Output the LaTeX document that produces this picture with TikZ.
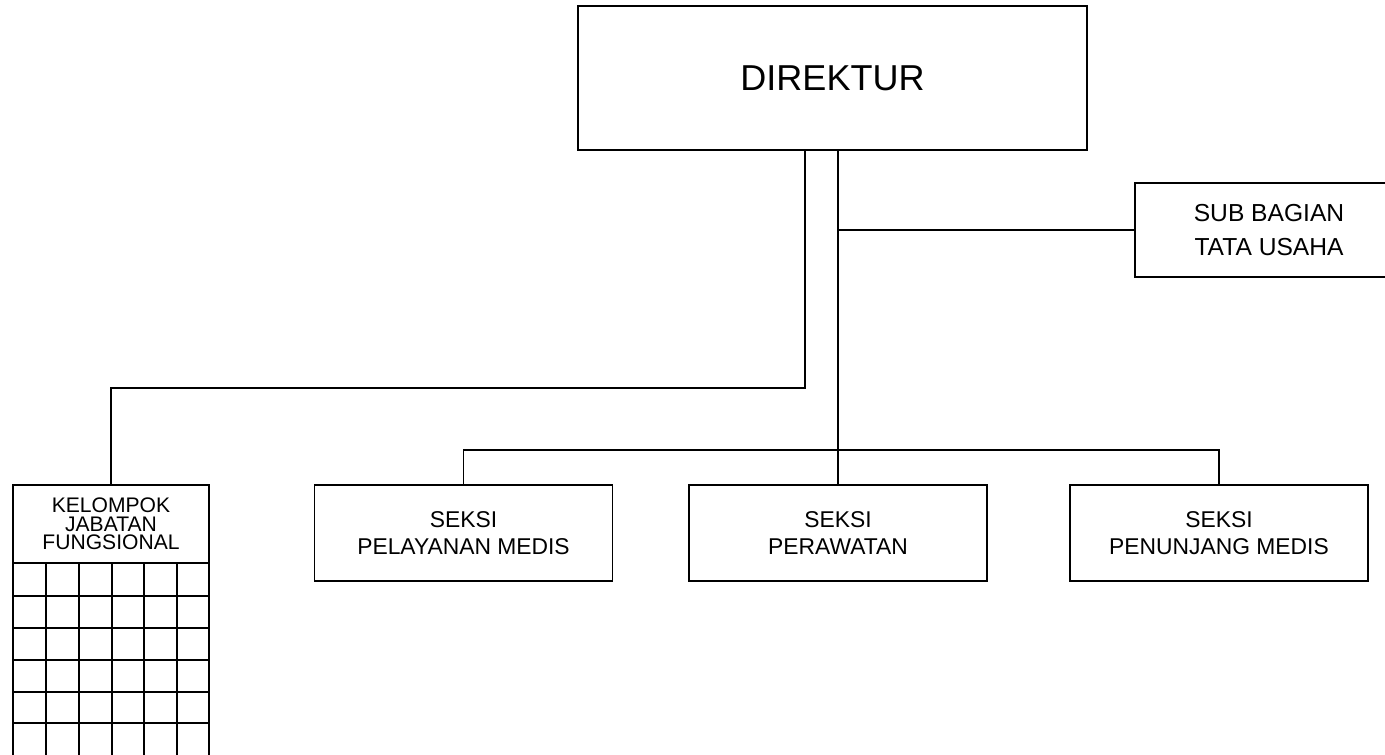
\documentclass[tikz,border=0pt]{standalone}
\usepackage{fontspec}
\setmainfont{Liberation Sans}
\tikzset{
  unit/.style={draw,line width=1.1pt,inner sep=0pt,align=center},
  seksi/.style={unit,minimum width=59.6mm,minimum height=19.2mm,
    font=\fontsize{13}{15.3}\selectfont},
}
\begin{document}
\begin{tikzpicture}[x=0.2mm,y=-0.2mm,line width=1.1pt]
  \clip (0,0) rectangle (1385,754);
  \begin{scope}
    \node[unit,minimum width=101.8mm,minimum height=28.8mm,
      font=\fontsize{20.5}{24}\selectfont] (dir) at (832.5,78) {DIREKTUR};

    \node[unit,minimum width=53.6mm,minimum height=18.8mm,
      font=\fontsize{14}{19.8}\selectfont] (tu) at (1269,230) {SUB BAGIAN\\TATA USAHA};

    \node[unit,minimum width=39.2mm,minimum height=15.6mm,
      font=\fontsize{12}{10.5}\selectfont] (jab) at (111,524) {KELOMPOK\\JABATAN\\FUNGSIONAL};

    \node[seksi] (pel) at (463.5,533) {SEKSI\\PELAYANAN MEDIS};
    \node[seksi] (raw) at (838,533) {SEKSI\\PERAWATAN};
    \node[seksi] (pen) at (1219,533) {SEKSI\\PENUNJANG MEDIS};

    \coordinate (kiri) at (805,388);
    \coordinate (bus) at (838,450);

    \path[draw] (dir.south -| kiri) -- (kiri) -| (jab.north);
    \path[draw] (dir.south -| bus) -- (raw.north);
    \path[draw] (tu.west -| bus) -- (tu.west);
    \path[draw] (pel.north) |- (bus) -| (pen.north);

    \draw (13,563) -- (13,760);
    \draw (46,563) -- (46,760);
    \draw (79,563) -- (79,760);
    \draw (112,563) -- (112,760);
    \draw (144,563) -- (144,760);
    \draw (177,563) -- (177,760);
    \draw (209,563) -- (209,760);

    \draw (13,596) -- (209,596);
    \draw (13,628) -- (209,628);
    \draw (13,660) -- (209,660);
    \draw (13,692) -- (209,692);
    \draw (13,723) -- (209,723);
  \end{scope}
\end{tikzpicture}
\end{document}
